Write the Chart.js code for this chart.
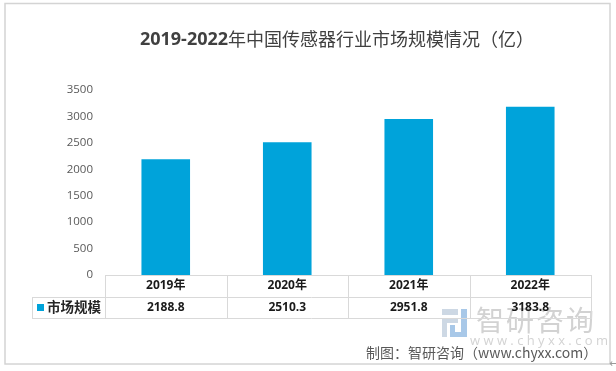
<!DOCTYPE html>
<html>
<head>
<meta charset="utf-8">
<script src="https://cdn.jsdelivr.net/npm/chart.js@4/dist/chart.umd.min.js"></script>
<style>
  html, body { margin: 0; padding: 0; background: #ffffff; }
  canvas { display: block; }
</style>
</head>
<body>
<canvas id="c" width="616" height="371"></canvas>
<script>
// ---- data ----
const categories = ['2019年', '2020年', '2021年', '2022年'];
const seriesName = '市场规模';
const values = [2188.8, 2510.3, 2951.8, 3183.8];
const yTicks = [0, 500, 1000, 1500, 2000, 2500, 3000, 3500];
const titleNum = '2019-2022';
const titleText = '年中国传感器行业市场规模情况（亿）';
const sourceText = '制图：智研咨询（www.chyxx.com）';
const watermarkName = '智研咨询';
const watermarkUrl = 'w w w . c h y x x . c o m';

const BAR_COLOR = '#00A3DA';
const LINE_COLOR = '#d9d9d9';
const TEXT_COLOR = '#595959';
const ROW_H = 21.5;

const decorPlugin = {
  id: 'decor',
  beforeDraw(chart) {
    const ctx = chart.ctx;
    ctx.save();
    // outer frame
    ctx.strokeStyle = '#d4d4d4';
    ctx.lineWidth = 1.5;
    ctx.strokeRect(5, 3.5, 605, 360.5);
    // watermark logo
    ctx.fillStyle = '#cdd8e4';
    ctx.fillRect(442, 309, 16, 6);
    ctx.fillRect(443, 318, 15, 5);
    ctx.fillRect(442, 318, 5, 19);
    ctx.fillStyle = '#a8c8e8';
    ctx.fillRect(461, 309, 6, 28);
    ctx.fillRect(450, 332, 17, 5);
    ctx.fillRect(450, 325, 5, 8);
    // watermark text
    ctx.fillStyle = '#d2d2d2';
    ctx.font = '28px "Noto Sans CJK SC"';
    ctx.textBaseline = 'middle';
    ctx.textAlign = 'left';
    for (let i = 0; i < watermarkName.length; i++) {
      ctx.fillText(watermarkName[i], 476 + i * 30, 320);
    }
    ctx.font = '13px "Open Sans"';
    ctx.fillStyle = '#d3d3d3';
    ctx.fillText(watermarkUrl, 470, 341);
    ctx.restore();
  },
  afterDraw(chart) {
    const ctx = chart.ctx;
    const area = chart.chartArea;
    const xs = chart.scales.x;
    ctx.save();
    // title
    ctx.textBaseline = 'middle';
    ctx.textAlign = 'left';
    ctx.fillStyle = '#404040';
    ctx.font = 'bold 18px "Open Sans"';
    const w1 = ctx.measureText(titleNum).width;
    ctx.font = '18px "Noto Sans CJK SC"';
    const w2 = ctx.measureText(titleText).width;
    let tx = 337 - (w1 + w2) / 2;
    ctx.font = 'bold 18px "Open Sans"';
    ctx.fillText(titleNum, tx, 40);
    ctx.font = '18px "Noto Sans CJK SC"';
    ctx.fillText(titleText, tx + w1, 39);

    // data table grid
    const top = area.bottom;
    const mid = top + ROW_H;
    const bot = top + ROW_H * 2;
    const legLeft = 32;
    ctx.strokeStyle = LINE_COLOR;
    ctx.lineWidth = 1;
    const hl = (x1, x2, y) => { ctx.beginPath(); ctx.moveTo(x1, y + 0.5); ctx.lineTo(x2, y + 0.5); ctx.stroke(); };
    const vl = (x, y1, y2) => { ctx.beginPath(); ctx.moveTo(Math.round(x) + 0.5, y1); ctx.lineTo(Math.round(x) + 0.5, y2); ctx.stroke(); };
    hl(area.left, area.right, Math.round(top));
    hl(legLeft, area.right, Math.round(mid));
    hl(legLeft, area.right, Math.round(bot));
    vl(legLeft, Math.round(mid), Math.round(bot) + 1);
    vl(area.left, Math.round(top), Math.round(bot) + 1);
    for (let i = 0; i < categories.length - 1; i++) {
      const bx = (xs.getPixelForValue(i) + xs.getPixelForValue(i + 1)) / 2;
      vl(bx, Math.round(top), Math.round(bot) + 1);
    }
    vl(area.right, Math.round(top), Math.round(bot) + 1);

    // legend cell
    ctx.fillStyle = BAR_COLOR;
    ctx.fillRect(37, 304, 7, 7);
    ctx.fillStyle = '#262626';
    ctx.font = 'bold 13.5px "Noto Sans CJK SC"';
    ctx.textBaseline = 'middle';
    ctx.fillText(seriesName, 47, (mid + bot) / 2);

    // source
    ctx.fillStyle = TEXT_COLOR;
    ctx.font = '14px "Noto Sans CJK SC"';
    ctx.fillText(sourceText, 366, 353);
    ctx.font = '11px "DejaVu Sans"';
    ctx.fillStyle = '#999999';
    ctx.fillText('←', 609, 364);
    ctx.restore();
  }
};

new Chart(document.getElementById('c'), {
  type: 'bar',
  data: {
    labels: categories,
    datasets: [{
      label: seriesName,
      data: values,
      backgroundColor: BAR_COLOR,
      borderWidth: 0,
      barPercentage: 0.4,
      categoryPercentage: 1.0
    }]
  },
  options: {
    responsive: false,
    devicePixelRatio: 1,
    animation: false,
    layout: { padding: { top: 90, left: 0, right: 25, bottom: 53 } },
    plugins: {
      legend: { display: false },
      title: { display: false },
      tooltip: { enabled: false }
    },
    scales: {
      x: {
        offset: true,
        grid: { display: false, drawTicks: false, tickLength: 0 },
        border: { display: false },
        ticks: {
          padding: 0,
          autoSkip: false,
          maxRotation: 0,
          color: '#1a1a1a',
          font: { family: '"Open Sans", "Noto Sans CJK SC"', size: 12, weight: 'bold', lineHeight: ROW_H / 12 },
          callback: (v, i) => [categories[i], values[i].toFixed(1)]
        },
        afterFit: (s) => { s.height = ROW_H * 2; }
      },
      y: {
        min: yTicks[0],
        max: yTicks[yTicks.length - 1],
        grid: { display: false, drawTicks: false, tickLength: 0 },
        border: { display: false },
        afterBuildTicks: (s) => { s.ticks = yTicks.map(v => ({ value: v })); },
        ticks: {
          padding: 12,
          color: TEXT_COLOR,
          font: { family: '"Open Sans"', size: 11.5 },
          callback: (v) => String(v)
        },
        afterFit: (s) => { s.width = 105; }
      }
    }
  },
  plugins: [decorPlugin]
});
</script>
</body>
</html>
